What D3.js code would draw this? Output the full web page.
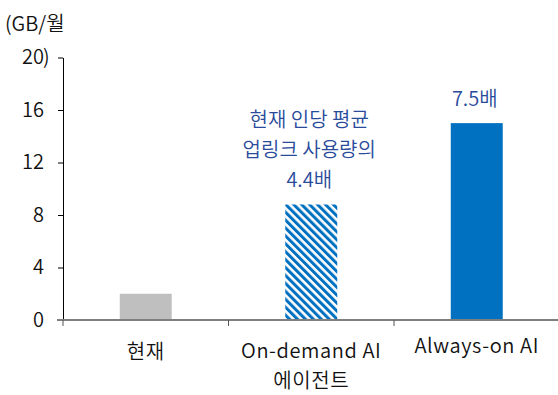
<!DOCTYPE html>
<html>
<head>
<meta charset="utf-8">
<script src="https://cdn.jsdelivr.net/npm/d3@7/dist/d3.min.js"></script>
<style>
  html, body { margin: 0; padding: 0; background: #fff; }
  svg { display: block; font-family: "Noto Sans CJK KR", "Noto Sans", sans-serif; font-weight: 350; }
</style>
</head>
<body>
<svg id="chart" width="558" height="395"></svg>
<script>
// Monthly data usage per person (GB/month)
const categories = ["현재", "On-demand AI 에이전트", "Always-on AI"];
const categoryLines = [["현재"], ["On-demand AI", "에이전트"], ["Always-on AI"]];
const values = [2.0, 8.8, 15.0];
const yTicks = [0, 4, 8, 12, 16, 20];
const annotations = [
  null,
  ["현재 인당 평균", "업링크 사용량의", "4.4배"],
  ["7.5배"]
];

const svg = d3.select("#chart");
const FONT = "'Noto Sans CJK KR', 'Noto Sans', sans-serif";

const x = d3.scaleBand()
  .domain(categories)
  .range([63, 559.5])
  .paddingInner(0.686)
  .paddingOuter(0.343);

const y = d3.scaleLinear().domain([0, 20]).range([320, 57.5]);

// Hatched fill for the on-demand bar
const defs = svg.append("defs");
const pat = defs.append("pattern")
  .attr("id", "hatch")
  .attr("patternUnits", "userSpaceOnUse")
  .attr("width", 5.6).attr("height", 5.6)
  .attr("patternTransform", "rotate(-45)");
pat.append("rect").attr("width", 5.6).attr("height", 5.6).attr("fill", "#ffffff");
pat.append("rect").attr("width", 3).attr("height", 5.6).attr("fill", "#0070c0");

const fills = ["#bfbfbf", "url(#hatch)", "#0070c0"];

// Bars
svg.append("g").selectAll("rect")
  .data(values)
  .join("rect")
  .attr("x", (d, i) => x(categories[i]))
  .attr("width", x.bandwidth())
  .attr("y", d => y(d))
  .attr("height", d => y(0) - y(d))
  .attr("fill", (d, i) => fills[i]);

// Y axis
const yAxis = svg.append("g")
  .attr("transform", "translate(63,0)")
  .call(d3.axisLeft(y).tickValues(yTicks).tickSize(5).tickPadding(14).tickSizeOuter(0));
yAxis.select(".domain").attr("stroke", "#000").attr("stroke-width", 1);
yAxis.selectAll(".tick line").attr("stroke", "#000");
yAxis.selectAll(".tick text")
  .attr("font-size", 20)
  .attr("font-weight", 350)
  .attr("fill", "#111")
  .attr("font-family", FONT);

// X axis
const xAxis = svg.append("g")
  .attr("transform", "translate(0,320)");
xAxis.append("line")
  .attr("x1", 57).attr("x2", 558)
  .attr("stroke", "#7f7f7f").attr("stroke-width", 2);
const step = x.step();
const boundaries = d3.range(categories.length + 1).map(i => 63 + i * step);
xAxis.selectAll("line.tick")
  .data(boundaries)
  .join("line")
  .attr("class", "tick")
  .attr("x1", d => d).attr("x2", d => d)
  .attr("y1", 0).attr("y2", 6)
  .attr("stroke", "#555").attr("stroke-width", 1);

// Category labels
const labelBase = [359, 358, 353];
categoryLines.forEach((lines, i) => {
  const cx = x(categories[i]) + x.bandwidth() / 2;
  const t = svg.append("text")
    .attr("text-anchor", "middle")
    .attr("font-size", 20)
    .attr("letter-spacing", 0.6)
    .attr("fill", "#111");
  lines.forEach((ln, j) => {
    t.append("tspan").attr("x", cx).attr("y", labelBase[i] + j * 30).text(ln);
  });
});

// Value annotations above bars
annotations.forEach((lines, i) => {
  if (!lines) return;
  const cx = x(categories[i]) + x.bandwidth() / 2 - 2;
  const top = y(values[i]);
  const t = svg.append("text")
    .attr("text-anchor", "middle")
    .attr("font-size", 20)
    .attr("fill", "#2a4b9b");
  const n = lines.length;
  lines.forEach((ln, j) => {
    t.append("tspan")
      .attr("x", cx)
      .attr("y", top - 17.5 - (n - 1 - j) * 30)
      .text(ln);
  });
});

// Unit label
svg.append("text")
  .attr("x", 5).attr("y", 31)
  .attr("font-size", 20)
  .attr("fill", "#111")
  .text("(GB/월");
svg.append("text")
  .attr("x", 43).attr("y", 64)
  .attr("font-size", 20)
  .attr("fill", "#111")
  .text(")");
</script>
</body>
</html>
